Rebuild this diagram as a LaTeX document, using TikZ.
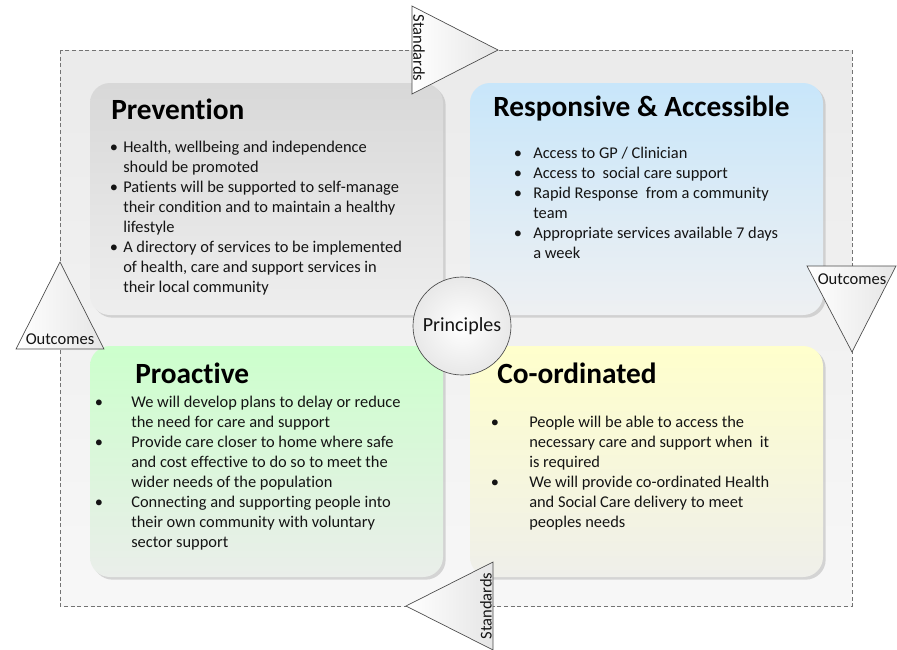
\documentclass[tikz,border=0pt]{standalone}
\usepackage{fontspec}
\setmainfont[Ligatures=NoCommon]{Carlito}
\usetikzlibrary{shadows}
\definecolor{txt}{HTML}{141414}
\definecolor{edge}{HTML}{4A4A4A}
\begin{document}
\begin{tikzpicture}[x=0.75pt,y=-0.75pt,
  body/.style={font=\fontsize{12.3}{15}\selectfont, text=txt, inner sep=0pt, anchor=base west},
  bul/.style={font=\fontsize{12.3}{15}\selectfont, text=txt, inner sep=0pt, anchor=base},
  ttl/.style={font=\fontsize{22}{26}\selectfont\bfseries, text=black, inner sep=0pt, anchor=base west},
  lbl/.style={font=\fontsize{12.4}{15}\selectfont, text=txt, inner sep=0pt},
  tri/.style={draw=edge, line width=0.5pt, left color=white, right color=black!10},
  box/.style={rounded corners=15pt, drop shadow={shadow xshift=2pt, shadow yshift=-2pt, fill=black!30, opacity=0.5}},
]
\useasboundingbox (0,0) rectangle (897,650);
% outer dashed frame
\path[draw=black!55, line width=0.5pt, dash pattern=on 3pt off 2pt, top color=black!8, bottom color=black!3] (60,50) rectangle (852,606);
% quadrant boxes
\path[box, top color={rgb,255:red,216;green,216;blue,216}, bottom color={rgb,255:red,238;green,238;blue,238}] (90,83) rectangle (443,315);
\path[box, top color={rgb,255:red,200;green,230;blue,250}, bottom color={rgb,255:red,238;green,240;blue,242}] (470,83) rectangle (823,315);
\path[box, top color={rgb,255:red,204;green,255;blue,204}, bottom color={rgb,255:red,234;green,238;blue,234}] (90,346) rectangle (443,577);
\path[box, top color={rgb,255:red,255;green,255;blue,204}, bottom color={rgb,255:red,239;green,239;blue,234}] (470,346) rectangle (823,577);

% titles
\node[ttl] (t1) at (111,119) {Prevention};
\node[ttl] (t2) at (493,116) {Responsive \& Accessible};
\node[ttl] (t3) at (135,383) {Proactive};
\node[ttl] (t4) at (497,383) {Co-ordinated};

% Prevention
\foreach \t [count=\i from 0] in {{Health, wellbeing and independence}, should be promoted, Patients will be supported to self-manage, their condition and to maintain a healthy, lifestyle, A directory of services to be implemented, {of health, care and support services in}, their local community}
  \node[body] (pv\i) at (123,{152+20*\i}) {\t};
\node[bul] (pb1) at (114,152) {\textbullet};
\node[bul] (pb2) at (114,192) {\textbullet};
\node[bul] (pb3) at (114,252) {\textbullet};

% Responsive
\foreach \t [count=\i from 0] in {Access to GP / Clinician, Access to\ \ social care support, Rapid Response\ \ from a community, team, Appropriate services available 7 days, a week}
  \node[body] (rs\i) at (533,{158+20*\i}) {\t};
\node[bul] (rb1) at (518,158) {\textbullet};
\node[bul] (rb2) at (518,178) {\textbullet};
\node[bul] (rb3) at (518,198) {\textbullet};
\node[bul] (rb4) at (518,238) {\textbullet};

% Proactive
\foreach \t [count=\i from 0] in {We will develop plans to delay or reduce, the need for care and support, Provide care closer to home where safe, and cost effective to do so to meet the, wider needs of the population, Connecting and supporting people into, their own community with voluntary, sector support}
  \node[body] (pa\i) at (131,{407+20*\i}) {\t};
\node[bul] (ab1) at (99,407) {\textbullet};
\node[bul] (ab2) at (99,447) {\textbullet};
\node[bul] (ab3) at (99,507) {\textbullet};

% Co-ordinated
\foreach \t [count=\i from 0] in {People will be able to access the, necessary care and support when\ \ it, is required, We will provide co-ordinated Health, and Social Care delivery to meet, peoples needs}
  \node[body] (co\i) at (529,{427+20*\i}) {\t};
\node[bul] (cb1) at (495,427) {\textbullet};
\node[bul] (cb2) at (495,487) {\textbullet};

% triangles
\draw[tri] (412,6) -- (412,94) -- (498,50) -- cycle;
\draw[tri] (493,562) -- (493,650) -- (406,606) -- cycle;
\draw[tri] (16,349) -- (104,349) -- (60,262) -- cycle;
\draw[tri] (807,266) -- (896,266) -- (852,352) -- cycle;
\node[lbl, rotate=-90] (s1) at (419,48) {Standards};
\node[lbl, rotate=90] (s2) at (486,606) {Standards};
\node[lbl] (o1) at (60,339) {Outcomes};
\node[lbl] (o2) at (852,279) {Outcomes};

% centre circle
\node[circle, draw=edge, line width=0.5pt, minimum size=73.5pt, inner sep=0pt, inner color=white, outer color=black!9, font=\fontsize{15}{18}\selectfont, text=txt] (pr) at (462,326) {Principles};
\end{tikzpicture}
\end{document}
